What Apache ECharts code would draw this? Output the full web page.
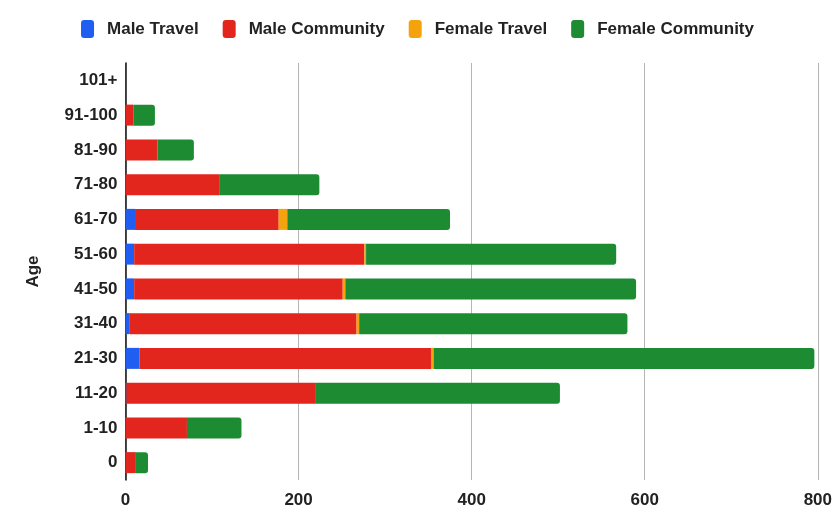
<!DOCTYPE html>
<html>
<head>
<meta charset="utf-8">
<script src="https://cdn.jsdelivr.net/npm/echarts@6/dist/echarts.min.js"></script>
<style>
html,body{margin:0;padding:0;background:#fff;}
#chart{width:835px;height:515px;}
</style>
</head>
<body>
<div id="chart"></div>
<script>
const categories = ['0','1-10','11-20','21-30','31-40','41-50','51-60','61-70','71-80','81-90','91-100','101+'];
const maleTravel      = [0, 0, 1, 16, 5, 10, 10, 11, 0, 0, 0, 0];
const maleCommunity   = [12, 71, 219, 337, 262, 241, 266, 166, 109, 37, 9, 0];
const femaleTravel    = [0, 0, 0, 3, 3, 3, 2, 10, 0, 0, 0, 0];
const femaleCommunity = [14, 63, 282, 440, 310, 336, 289, 188, 115, 42, 25, 0];
const xTicks = [0, 200, 400, 600, 800];

const colors = ['#1f5ef0', '#e2261d', '#f5a30c', '#1c8b32'];
const font = 'Liberation Sans, Arial, sans-serif';

const chart = echarts.init(document.getElementById('chart'));
function mk(name, data, color, last) {
  return {
    name: name, type: 'bar', stack: 'total', data: data,
    barWidth: 21,
    itemStyle: { color: color, borderRadius: last ? [0, 3, 3, 0] : 0 },
    emphasis: { disabled: true }
  };
}
chart.setOption({
  animation: false,
  textStyle: { fontFamily: font },
  legend: {
    top: 15, left: 'center',
    icon: 'roundRect', itemWidth: 13, itemHeight: 18, itemGap: 24,
    textStyle: { fontSize: 17, color: '#222', fontFamily: font, fontWeight: 'bold', padding: [0, 0, 0, 8] }
  },
  grid: { left: 125.5, right: 7, top: 63, bottom: 35, containLabel: false },
  xAxis: {
    type: 'value', min: xTicks[0], max: xTicks[xTicks.length - 1], interval: 200,
    axisLine: { show: false }, axisTick: { show: false },
    splitLine: { lineStyle: { color: '#b5b5b5', width: 1 } },
    axisLabel: { fontSize: 17, color: '#222', margin: 12, fontFamily: font, fontWeight: 'bold' }
  },
  yAxis: {
    type: 'category', data: categories,
    name: 'Age', nameLocation: 'middle', nameGap: 84, nameRotate: 90,
    nameTextStyle: { fontSize: 17, color: '#222', fontFamily: font, fontWeight: 'bold' },
    axisLine: { show: true, lineStyle: { color: '#111', width: 1.5 } },
    axisTick: { show: false },
    axisLabel: { fontSize: 17, color: '#222', margin: 8, fontFamily: font, fontWeight: 'bold' }
  },
  series: [
    mk('Male Travel', maleTravel, colors[0], false),
    mk('Male Community', maleCommunity, colors[1], false),
    mk('Female Travel', femaleTravel, colors[2], false),
    mk('Female Community', femaleCommunity, colors[3], true)
  ]
});
</script>
</body>
</html>
